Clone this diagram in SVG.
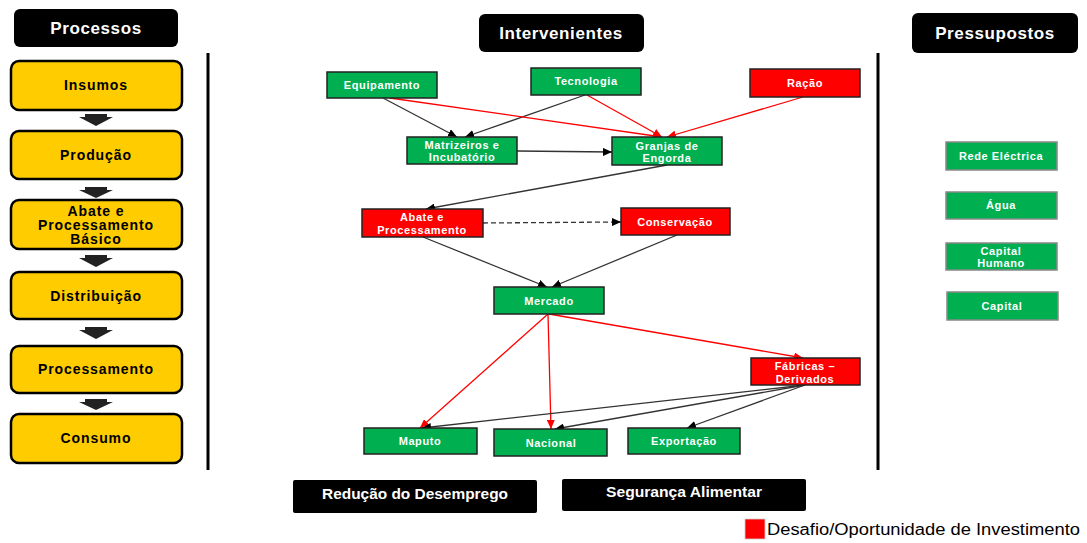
<svg xmlns="http://www.w3.org/2000/svg" width="1087" height="543" viewBox="0 0 1087 543">
<style>
.hdr{fill:#000;}
.hdrt{font-family:"Liberation Sans",Arial,sans-serif;font-weight:bold;font-size:17px;fill:#fff;text-anchor:middle;letter-spacing:0.6px;}
.proc{fill:#FFCC00;stroke:#000;stroke-width:2.5;}
.proct{font-family:"Liberation Sans",Arial,sans-serif;font-weight:bold;font-size:14px;fill:#000;text-anchor:middle;letter-spacing:0.9px;}
.g{fill:#00B050;stroke:#222;stroke-width:1.5;}
.r{fill:#FF0000;stroke:#222;stroke-width:1.5;}
.gp{fill:#00B050;stroke:#888;stroke-width:1.5;}
.nt{font-family:"Liberation Sans",Arial,sans-serif;font-weight:bold;font-size:11px;fill:#fff;text-anchor:middle;letter-spacing:0.6px;}
.bk{stroke:#333;stroke-width:1.3;fill:none;marker-end:url(#ab);}
.rd{stroke:#FF0000;stroke-width:1.3;fill:none;marker-end:url(#ar);}
.barr{fill:#222;}
.bt{font-family:"Liberation Sans Narrow","Liberation Sans",Arial,sans-serif;font-weight:bold;font-size:14px;fill:#fff;text-anchor:middle;}
.vline{stroke:#000;stroke-width:3;}
</style>
<defs>
<marker id="ab" markerWidth="10" markerHeight="8" refX="9" refY="4" orient="auto" markerUnits="userSpaceOnUse"><path d="M0,0 L9,4 L0,8 Z" fill="#000"/></marker>
<marker id="ar" markerWidth="10" markerHeight="8" refX="9" refY="4" orient="auto" markerUnits="userSpaceOnUse"><path d="M0,0 L9,4 L0,8 Z" fill="#FF0000"/></marker>
</defs>
<rect width="1087" height="543" fill="#fff"/>

<!-- headers -->
<g id="h-processos"><rect class="hdr" x="14" y="9" width="164" height="38" rx="6"/><text class="hdrt" x="96" y="34">Processos</text></g>
<g id="h-intervenientes"><rect class="hdr" x="479" y="14" width="165" height="38" rx="6"/><text class="hdrt" x="561" y="39">Intervenientes</text></g>
<g id="h-pressupostos"><rect class="hdr" x="912" y="13" width="166" height="40" rx="6"/><text class="hdrt" x="995" y="39">Pressupostos</text></g>

<!-- vertical separators -->
<line class="vline" x1="208" y1="53" x2="208" y2="470"/>
<line class="vline" x1="878" y1="53" x2="878" y2="470"/>

<!-- process column -->
<g id="p-insumos"><rect class="proc" x="11" y="61" width="171" height="49" rx="8"/><text class="proct" x="96" y="90">Insumos</text></g>
<g id="p-producao"><rect class="proc" x="11" y="131" width="171" height="48" rx="8"/><text class="proct" x="96" y="160">Produção</text></g>
<g id="p-abate"><rect class="proc" x="11" y="200" width="171" height="49" rx="8"/><text class="proct" x="96" y="216">Abate e</text><text class="proct" x="96" y="230">Processamento</text><text class="proct" x="96" y="244">Básico</text></g>
<g id="p-distribuicao"><rect class="proc" x="11" y="272" width="171" height="47" rx="8"/><text class="proct" x="96" y="301">Distribuição</text></g>
<g id="p-processamento"><rect class="proc" x="11" y="346" width="171" height="47" rx="8"/><text class="proct" x="96" y="374">Processamento</text></g>
<g id="p-consumo"><rect class="proc" x="11" y="414" width="171" height="49" rx="8"/><text class="proct" x="96" y="443">Consumo</text></g>

<g id="process-arrows">
<polygon class="barr" points="85,114 107,114 107,117 113,117 96,126 79,117 85,117"/>
<polygon class="barr" points="85,187 107,187 107,190 113,190 96,198 79,190 85,190"/>
<polygon class="barr" points="85,255 107,255 107,258 113,258 96,267 79,258 85,258"/>
<polygon class="barr" points="85,327 107,327 107,330 113,330 96,339 79,330 85,330"/>
<polygon class="barr" points="85,399 107,399 107,402 113,402 96,410 79,402 85,402"/>
</g>

<!-- connectors -->
<g id="connectors">
<line class="bk" x1="383" y1="98" x2="457" y2="137"/>
<line class="bk" x1="585" y1="95" x2="465" y2="137"/>
<line class="rd" x1="390" y1="98" x2="662" y2="137"/>
<line class="rd" x1="587" y1="95" x2="662" y2="137"/>
<line class="rd" x1="803" y1="97" x2="667" y2="137"/>
<line class="bk" x1="517" y1="151" x2="612" y2="152"/>
<line class="bk" x1="667" y1="165" x2="426" y2="209"/>
<line class="bk" x1="483" y1="223" x2="621" y2="222" stroke-dasharray="5,3"/>
<line class="bk" x1="423" y1="237" x2="547" y2="287"/>
<line class="bk" x1="677" y1="235" x2="552" y2="287"/>
<line class="rd" x1="548" y1="314" x2="420" y2="428"/>
<line class="rd" x1="548" y1="314" x2="551" y2="429"/>
<line class="rd" x1="549" y1="314" x2="803" y2="358"/>
<line class="bk" x1="805" y1="385" x2="422" y2="428"/>
<line class="bk" x1="805" y1="385" x2="555" y2="429"/>
<line class="bk" x1="805" y1="385" x2="687" y2="428"/>
</g>

<!-- intervenientes nodes -->
<g id="n-equipamento"><rect class="g" x="327" y="72" width="110" height="26"/><text class="nt" x="382" y="89">Equipamento</text></g>
<g id="n-tecnologia"><rect class="g" x="531" y="68" width="110" height="27"/><text class="nt" x="586" y="85">Tecnologia</text></g>
<g id="n-racao"><rect class="r" x="750" y="69" width="110" height="28"/><text class="nt" x="805" y="87">Ração</text></g>
<g id="n-matrizeiros"><rect class="g" x="407" y="137" width="110" height="27"/><text class="nt" x="462" y="149">Matrizeiros e</text><text class="nt" x="462" y="161">Incubatório</text></g>
<g id="n-granjas"><rect class="g" x="612" y="137" width="110" height="28"/><text class="nt" x="667" y="150">Granjas de</text><text class="nt" x="667" y="162">Engorda</text></g>
<g id="n-abate"><rect class="r" x="362" y="209" width="121" height="28"/><text class="nt" x="422" y="221">Abate e</text><text class="nt" x="422" y="234">Processamento</text></g>
<g id="n-conservacao"><rect class="r" x="621" y="208" width="109" height="27"/><text class="nt" x="675" y="226">Conservação</text></g>
<g id="n-mercado"><rect class="g" x="494" y="287" width="110" height="27"/><text class="nt" x="549" y="305">Mercado</text></g>
<g id="n-fabricas"><rect class="r" x="751" y="358" width="109" height="27"/><text class="nt" x="805" y="370">Fábricas –</text><text class="nt" x="805" y="383">Derivados</text></g>
<g id="n-maputo"><rect class="g" x="364" y="428" width="113" height="26"/><text class="nt" x="420" y="445">Maputo</text></g>
<g id="n-nacional"><rect class="g" x="494" y="429" width="113" height="27"/><text class="nt" x="551" y="447">Nacional</text></g>
<g id="n-exportacao"><rect class="g" x="628" y="428" width="112" height="26"/><text class="nt" x="684" y="445">Exportação</text></g>

<!-- pressupostos -->
<g id="n-rede"><rect class="gp" x="946" y="142" width="111" height="28"/><text class="nt" x="1001" y="160">Rede Eléctrica</text></g>
<g id="n-agua"><rect class="gp" x="946" y="192" width="111" height="27"/><text class="nt" x="1001" y="209">Água</text></g>
<g id="n-capital-humano"><rect class="gp" x="946" y="243" width="111" height="27"/><text class="nt" x="1001" y="255">Capital</text><text class="nt" x="1001" y="267">Humano</text></g>
<g id="n-capital"><rect class="gp" x="947" y="292" width="111" height="28"/><text class="nt" x="1002" y="310">Capital</text></g>

<!-- bottom -->
<g id="b-reducao"><rect x="293" y="480" width="244" height="33" rx="2" fill="#000"/><text class="bt" x="415" y="499" textLength="186" lengthAdjust="spacingAndGlyphs">Redução do Desemprego</text></g>
<g id="b-seguranca"><rect x="562" y="479" width="244" height="32" rx="2" fill="#000"/><text class="bt" x="684" y="497" textLength="156" lengthAdjust="spacingAndGlyphs">Segurança Alimentar</text></g>
<g id="legend"><rect x="745" y="519" width="20" height="20" fill="#FF0000" stroke="#ccc" stroke-width="0.8"/><text x="767" y="535" font-family="'Liberation Sans Narrow','Liberation Sans',Arial,sans-serif" font-size="16" fill="#000" textLength="313" lengthAdjust="spacingAndGlyphs">Desafio/Oportunidade de Investimento</text></g>
</svg>
